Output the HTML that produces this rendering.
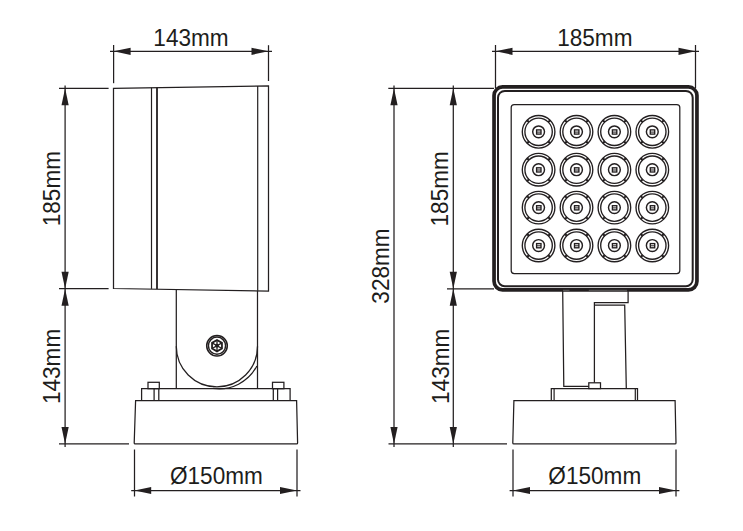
<!DOCTYPE html>
<html>
<head>
<meta charset="utf-8">
<title>Dimensions</title>
<style>
html,body{margin:0;padding:0;background:#fff;}
body{width:743px;height:531px;overflow:hidden;}
svg{display:block;}
text{font-family:"Liberation Sans",sans-serif;font-size:22.6px;fill:#1d1d1b;}
.l{stroke:#231f20;stroke-width:1.25;fill:none;stroke-linecap:butt;stroke-linejoin:miter;}
.t{stroke:#231f20;stroke-width:1.2;fill:none;}
.a{fill:#231f20;stroke:none;}
</style>
</head>
<body>
<svg width="743" height="531" viewBox="0 0 743 531">
<rect width="743" height="531" fill="#fff"/>

<!-- ================= LEFT VIEW ================= -->
<!-- top dimension 143mm -->
<g id="dimL-top">
<line class="l" x1="113.6" y1="45" x2="113.6" y2="83.2"/>
<line class="l" x1="268.5" y1="45.2" x2="268.5" y2="81"/>
<line class="l" x1="110" y1="51.3" x2="272" y2="51.3"/>
<polygon class="a" points="113.6,51.3 130.60,54.90 130.60,47.70"/>
<polygon class="a" points="268.5,51.3 251.5,47.7 251.5,54.9"/>
<text transform="translate(191,45.8) scale(1,1.035)" text-anchor="middle">143mm</text>
</g>

<!-- left vertical dimensions -->
<g id="dimL-left">
<line class="l" x1="59" y1="88.3" x2="108.6" y2="88.3"/>
<line class="l" x1="59" y1="288.7" x2="108.6" y2="288.7"/>
<line class="l" x1="59" y1="443.9" x2="129" y2="443.9"/>
<line class="l" x1="65.1" y1="85.5" x2="65.1" y2="447"/>
<polygon class="a" points="65.1,88.3 61.50,105.30 68.70,105.30"/>
<polygon class="a" points="65.1,288.7 68.7,271.7 61.5,271.7"/>
<polygon class="a" points="65.1,288.7 61.5,305.7 68.7,305.7"/>
<polygon class="a" points="65.1,443.9 68.70,426.90 61.50,426.90"/>
<text transform="translate(60.2,188.6) rotate(-90) scale(1,1.035)" text-anchor="middle">185mm</text>
<text transform="translate(60.2,366.4) rotate(-90) scale(1,1.035)" text-anchor="middle">143mm</text>
</g>

<!-- body -->
<g id="bodyL">
<polygon class="l" points="113.5,88.3 268.5,85.8 268.5,291 113.5,288.5"/>
<line class="t" x1="151.5" y1="87.7" x2="151.5" y2="288.9"/>
<line class="l" style="stroke-width:1.8" x1="157" y1="87.6" x2="157" y2="289"/>
<line class="t" x1="257.7" y1="86" x2="257.7" y2="290.8"/>
</g>

<!-- stem -->
<g id="stemL">
<line class="l" x1="176.3" y1="290" x2="176.3" y2="388.7"/>
<line class="l" x1="257.5" y1="290.8" x2="257.5" y2="388.7"/>
<path class="l" d="M176.3,346.3 A40.6,40.6 0 0 0 257.5,346.3"/>
<path class="l" d="M256.9,366 A42.6,42.6 0 0 1 213,388.4"/>
<circle class="l" cx="217" cy="345.7" r="10.3" style="stroke-width:1.5"/>
<circle class="l" cx="217" cy="345.7" r="8.6" style="stroke-width:1.5"/>
<polygon class="l" style="stroke-width:1.8" points="217,340 221.95,342.85 221.95,348.55 217,351.4 212.05,348.55 212.05,342.85"/>
<line class="l" style="stroke-width:1.3" x1="217" y1="340" x2="217" y2="351.4"/>
<line class="l" style="stroke-width:1.3" x1="212.05" y1="342.85" x2="221.95" y2="348.55"/>
<line class="l" style="stroke-width:1.3" x1="212.05" y1="348.55" x2="221.95" y2="342.85"/>
<circle cx="217" cy="345.7" r="1.9" class="a"/>
</g>

<!-- plate, bolts, base -->
<g id="baseL">
<polyline class="l" points="141.6,400.5 141.6,388.7 290.1,388.7 290.1,400.5"/>
<rect class="l" x="148" y="382.3" width="11.3" height="6.4"/>
<line class="l" x1="154.1" y1="388.7" x2="154.1" y2="400.5"/>
<line class="l" x1="158.8" y1="388.7" x2="158.8" y2="400.5"/>
<rect class="l" x="272.5" y="382.3" width="11.4" height="6.4"/>
<line class="l" x1="273.3" y1="388.7" x2="273.3" y2="400.5"/>
<line class="l" x1="277.6" y1="388.7" x2="277.6" y2="400.5"/>
<path class="l" d="M135.6,400.5 L296.6,400.5 L297.6,442.9 Q297.6,443.9 296.6,443.9 L135.2,443.9 Q134.2,443.9 134.2,442.9 Z"/>
</g>

<!-- bottom dimension -->
<g id="dimL-bot">
<line class="l" x1="134.5" y1="449.5" x2="134.5" y2="496.5"/>
<line class="l" x1="297" y1="449.5" x2="297" y2="496.5"/>
<line class="l" x1="131.2" y1="490.5" x2="300.5" y2="490.5"/>
<polygon class="a" points="134.5,490.5 151.20,494.10 151.20,486.90"/>
<polygon class="a" points="297,490.5 280.00,486.90 280.00,494.10"/>
<text transform="translate(216.4,484) scale(1,1.035)" text-anchor="middle">Ø150mm</text>
</g>

<!-- ================= RIGHT VIEW ================= -->
<g id="dimR-top">
<line class="l" x1="495.5" y1="45" x2="495.5" y2="88"/>
<line class="l" x1="695.5" y1="45" x2="695.5" y2="88"/>
<line class="l" x1="492" y1="51.3" x2="699" y2="51.3"/>
<polygon class="a" points="495.5,51.3 512.50,54.90 512.50,47.70"/>
<polygon class="a" points="695.5,51.3 678.50,47.70 678.50,54.90"/>
<text transform="translate(594.8,45.8) scale(1,1.035)" text-anchor="middle">185mm</text>
</g>

<g id="dimR-left">
<line class="l" x1="388.3" y1="88.3" x2="494" y2="88.3"/>
<line class="l" x1="447" y1="288.75" x2="494" y2="288.75"/>
<line class="l" x1="388.5" y1="443.9" x2="507" y2="443.9"/>
<line class="l" x1="394" y1="85.5" x2="394" y2="447"/>
<line class="l" x1="453.3" y1="85.5" x2="453.3" y2="447"/>
<polygon class="a" points="394,88.3 390.40,105.30 397.60,105.30"/>
<polygon class="a" points="394,443.9 397.60,426.90 390.40,426.90"/>
<polygon class="a" points="453.3,88.3 449.70,105.30 456.90,105.30"/>
<polygon class="a" points="453.3,288.75 456.9,271.75 449.7,271.75"/>
<polygon class="a" points="453.3,288.75 449.7,305.75 456.9,305.75"/>
<polygon class="a" points="453.3,443.9 456.90,426.90 449.70,426.90"/>
<text transform="translate(388.5,266) rotate(-90) scale(1,1.035)" text-anchor="middle">328mm</text>
<text transform="translate(448.3,188.8) rotate(-90) scale(1,1.035)" text-anchor="middle">185mm</text>
<text transform="translate(448.5,366.3) rotate(-90) scale(1,1.035)" text-anchor="middle">143mm</text>
</g>

<!-- frame -->
<g id="frameR">
<rect x="494.05" y="86.95" width="202.9" height="202.9" rx="8.5" ry="8.5" fill="#fff" stroke="#231f20" stroke-width="3.7"/>
<rect x="498" y="90.9" width="194.7" height="195.3" rx="6.8" ry="6.8" fill="none" stroke="#231f20" stroke-width="2"/>
<rect class="l" x="511.2" y="104.5" width="168.6" height="169" rx="3" ry="3"/>
</g>

<!-- LEDs -->
<defs>
<g id="led">
<circle class="l" r="16.3" style="stroke-width:1.35"/>
<circle class="l" r="13.7" style="stroke-width:1.35"/>
<path class="l" style="stroke-width:2" d="M-11.5,-11.5 L-9.7,-9.7 M11.5,-11.5 L9.7,-9.7 M-11.5,11.5 L-9.7,9.7 M11.5,11.5 L9.7,9.7"/>
<circle class="l" r="5.9" style="stroke-width:1.45"/>
<rect x="-2.0" y="-1.9" width="4.4" height="4.2" fill="none" stroke="#231f20" stroke-width="1.35"/>
<line x1="-2.0" y1="0.3" x2="2.4" y2="0.3" stroke="#231f20" stroke-width="1.0"/>
</g>
</defs>
<g id="leds">
<use href="#led" x="538.6" y="131.8"/><use href="#led" x="576.5" y="131.8"/><use href="#led" x="614.4" y="131.8"/><use href="#led" x="652.3" y="131.8"/>
<use href="#led" x="538.6" y="169.7"/><use href="#led" x="576.5" y="169.7"/><use href="#led" x="614.4" y="169.7"/><use href="#led" x="652.3" y="169.7"/>
<use href="#led" x="538.6" y="207.6"/><use href="#led" x="576.5" y="207.6"/><use href="#led" x="614.4" y="207.6"/><use href="#led" x="652.3" y="207.6"/>
<use href="#led" x="538.6" y="245.5"/><use href="#led" x="576.5" y="245.5"/><use href="#led" x="614.4" y="245.5"/><use href="#led" x="652.3" y="245.5"/>
</g>

<!-- stem right view -->
<line x1="563" y1="290.3" x2="569.5" y2="290.3" stroke="#8a8a8a" stroke-width="0.6"/>
<line x1="588.8" y1="290.3" x2="627" y2="290.3" stroke="#8a8a8a" stroke-width="0.6"/>
<g id="stemR">
<polyline class="l" points="562.7,291 563.8,386.3 588.8,386.3"/>
<polyline class="l" points="628.1,291 628.1,302.7 594.4,302.7 594.4,382.8"/>
<polyline class="l" points="594.4,305.2 624.7,305.2 626.3,388.7"/>
<rect class="l" x="588.8" y="382.8" width="11.7" height="5.8"/>
</g>

<g id="baseR">
<polyline class="l" points="551.3,400.5 551.3,388.7 637.5,388.7 637.5,400.5"/>
<line class="t" x1="554.1" y1="388.7" x2="554.1" y2="400.5"/>
<line class="t" x1="635.3" y1="388.7" x2="635.3" y2="400.5"/>
<path class="l" d="M513.9,400.5 L675.1,400.5 L676,442.9 Q676,443.9 675,443.9 L513.8,443.9 Q512.8,443.9 512.8,442.9 Z"/>
</g>

<g id="dimR-bot">
<line class="l" x1="513" y1="449.5" x2="513" y2="496.5"/>
<line class="l" x1="676" y1="449.5" x2="676" y2="496.5"/>
<line class="l" x1="509.6" y1="490.5" x2="679.4" y2="490.5"/>
<polygon class="a" points="513,490.5 530,494.1 530,486.9"/>
<polygon class="a" points="676,490.5 659,486.9 659,494.1"/>
<text transform="translate(594.8,484) scale(1,1.035)" text-anchor="middle">Ø150mm</text>
</g>
</svg>
</body>
</html>
